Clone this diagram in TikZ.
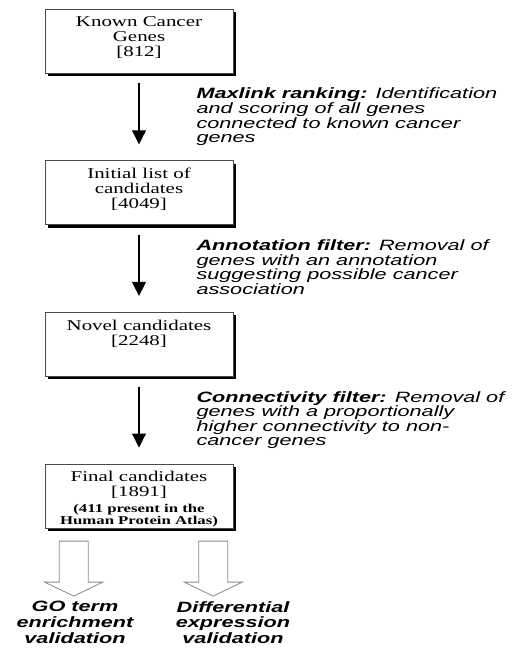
\documentclass[tikz,border=0pt]{standalone}
\usepackage{fontspec}
\setmainfont{Liberation Serif}[FakeStretch=1.4]
\newfontfamily\notefont{Liberation Sans}[FakeStretch=1.45]
\usetikzlibrary{arrows.meta, positioning, calc, shadows}
\definecolor{boxline}{HTML}{4A4A4A}
\definecolor{hollowgray}{HTML}{8A8A8A}

% top-aligned text inside a stage box
\newcommand{\stagetext}[1]{\parbox[c][49bp][t]{184bp}{\centering\strut #1}}

\begin{document}
\begin{tikzpicture}[
    x=1bp, y=-1bp,
    node distance=87bp,
    stage/.style={draw=boxline, fill=white, line width=0.6bp,
      minimum width=188bp, minimum height=64bp,
      inner xsep=2bp, inner ysep=7.5bp,
      font=\fontsize{15}{15}\selectfont,
      drop shadow={shadow xshift=3bp, shadow yshift=-3bp, fill=black, opacity=1}},
    note/.style={align=left, inner sep=0pt,
      font=\notefont\itshape\fontsize{15}{14.7}\selectfont},
    outcome/.style={align=center, inner sep=0pt, anchor=north,
      font=\notefont\bfseries\itshape\fontsize{15}{15.8}\selectfont},
    flow/.style={-{Triangle[length=14bp, width=14bp]}, line width=1.1bp,
      shorten <=10bp, shorten >=16bp},
    hollow/.style={draw=hollowgray, fill=white, line width=0.8bp},
  ]

  \useasboundingbox (0,0) rectangle (517,648);

  % Stages
  \node[stage] (known) at (139,41)
    {\stagetext{Known Cancer\\Genes\\{[812]}}};
  \node[stage, below=of known] (initial)
    {\stagetext{Initial list of\\candidates\\{[4049]}}};
  \node[stage, below=of initial] (novel)
    {\stagetext{Novel candidates\\{[2248]}}};
  \node[stage, below=of novel] (final)
    {\stagetext{Final candidates\\{[1891]}\\[3bp]\fontsize{12}{12.5}\selectfont\bfseries
      (411 present in the\\Human Protein Atlas)}};

  % Steps
  \draw[flow] (known) -- (initial);
  \draw[flow] (initial) -- (novel);
  \draw[flow] (novel) -- (final);

  % Step descriptions
  \node[note, below right=14.5bp and -37bp of known.south east] (maxlink)
    {\textbf{Maxlink ranking:} Identification\\and scoring of all genes\\connected to known cancer\\genes};
  \node[note, below right=14.5bp and -37bp of initial.south east] (annot)
    {\textbf{Annotation filter:} Removal of\\genes with an annotation\\suggesting possible cancer\\association};
  \node[note, below right=14.5bp and -37bp of novel.south east] (connect)
    {\textbf{Connectivity filter:} Removal of\\genes with a proportionally\\higher connectivity to non-\\cancer genes};

  % Validation
  \node[outcome] (govalid) at (75,601) {GO term\\enrichment\\validation};
  \node[outcome] (diffvalid) at (233,601) {Differential\\expression\\validation};

  \coordinate (gotop) at ($(final.south west)+(29,13)$);
  \coordinate (difftop) at ($(final.south west)+(168.5,13)$);
  \foreach \c in {gotop, difftop}
    \draw[hollow] (\c) ++(-14.5,0) -- ++(0,41) -- ++(-14.5,0) -- ++(29,14)
      -- ++(29,-14) -- ++(-14.5,0) -- ++(0,-41) -- cycle;

\end{tikzpicture}
\end{document}
